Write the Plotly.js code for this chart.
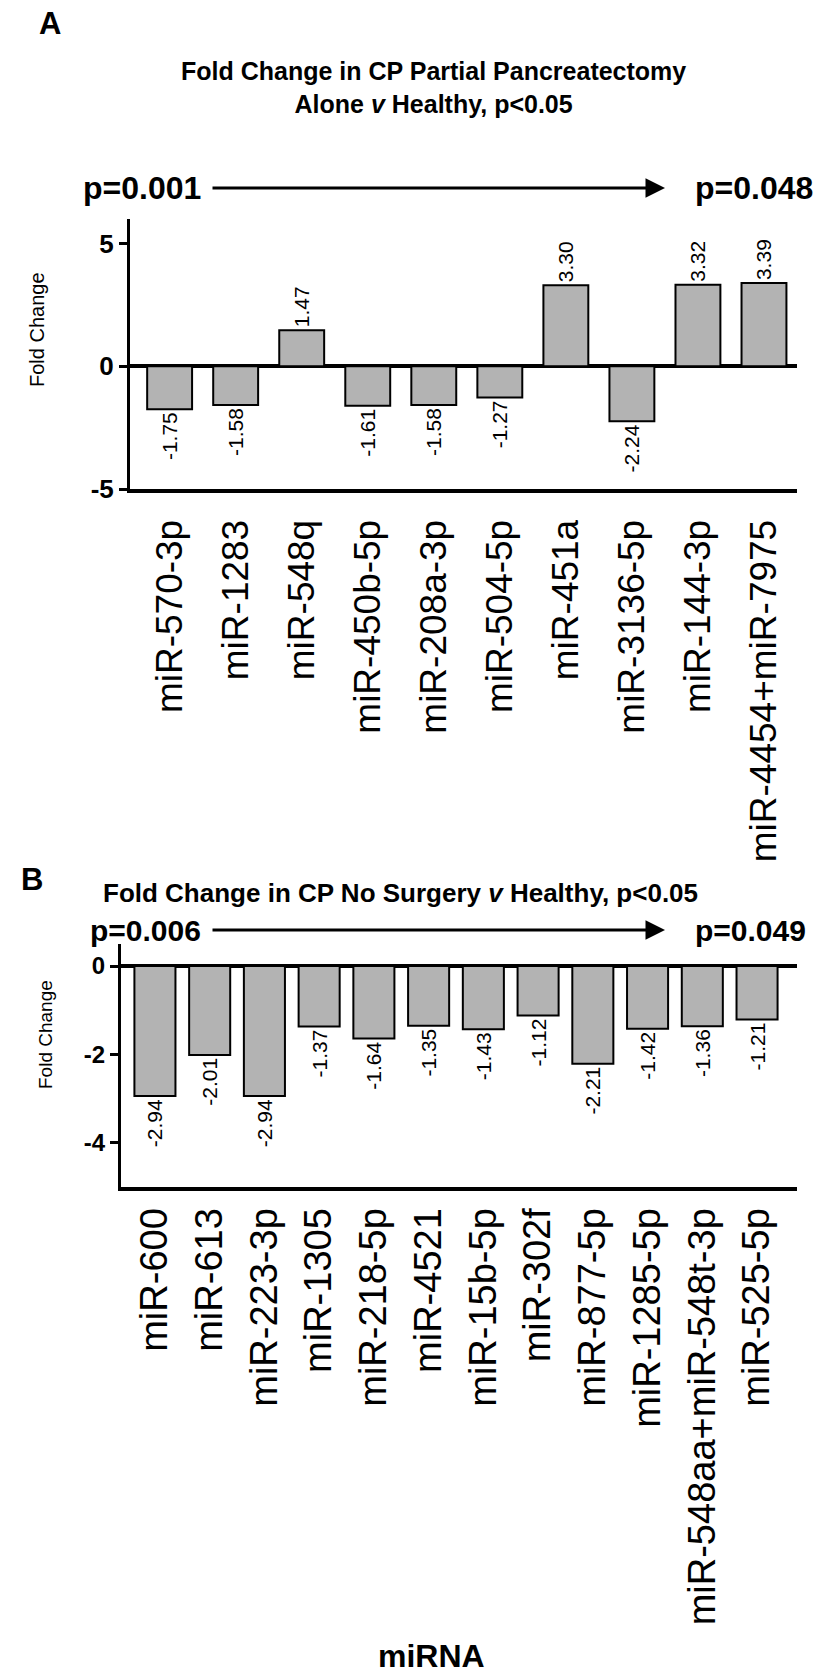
<!DOCTYPE html>
<html>
<head>
<meta charset="utf-8">
<script src="https://cdn.plot.ly/plotly-3.0.1.min.js"></script>
<style>html,body{margin:0;padding:0;background:#fff;}</style>
</head>
<body>
<div id="chart" style="width:829px;height:1678px;"></div>
<script>
// ---- data ----
const catsA = ['miR-570-3p','miR-1283','miR-548q','miR-450b-5p','miR-208a-3p','miR-504-5p','miR-451a','miR-3136-5p','miR-144-3p','miR-4454+miR-7975'];
const valsA = [-1.75,-1.58,1.47,-1.61,-1.58,-1.27,3.30,-2.24,3.32,3.39];
const catsB = ['miR-600','miR-613','miR-223-3p','miR-1305','miR-218-5p','miR-4521','miR-15b-5p','miR-302f','miR-877-5p','miR-1285-5p','miR-548aa+miR-548t-3p','miR-525-5p'];
const valsB = [-2.94,-2.01,-2.94,-1.37,-1.64,-1.35,-1.43,-1.12,-2.21,-1.42,-1.36,-1.21];
const yTicksA = [-5,0,5];
const yTicksB = [-4,-2,0];

// ---- layout helpers ----
const W = 829, H = 1678;
const px = x => x / W;
const py = y => 1 - y / H;
const FONT = 'Liberation Sans, Arial, Helvetica, sans-serif';
const BAR = '#b3b3b3';

const traceA = {
  type:'bar', x:catsA, y:valsA, xaxis:'x', yaxis:'y', width:0.68,
  marker:{color:BAR, line:{color:'black', width:2}},
  text: valsA.map(v => v.toFixed(2)), textposition:'outside', textangle:-90,
  textfont:{family:FONT, size:21, color:'black'}, cliponaxis:false, constraintext:'none'
};
const traceB = {
  type:'bar', x:catsB, y:valsB, xaxis:'x2', yaxis:'y2', width:0.75,
  marker:{color:BAR, line:{color:'black', width:2}},
  text: valsB.map(v => v.toFixed(2)), textposition:'outside', textangle:-90,
  textfont:{family:FONT, size:21, color:'black'}, cliponaxis:false, constraintext:'none'
};

const xCommon = {showline:true, linecolor:'black', linewidth:4, ticks:'', tickangle:-90,
  showgrid:false, zeroline:false, fixedrange:true};
const yCommon = {showline:true, linecolor:'black', linewidth:3, ticks:'outside', ticklen:8,
  tickwidth:3, tickcolor:'black', showgrid:false, zeroline:true, zerolinecolor:'black',
  zerolinewidth:4, fixedrange:true};

function ann(text, x, y, size, extra) {
  return Object.assign({text:text, xref:'paper', yref:'paper', x:px(x), y:py(y),
    xanchor:'center', yanchor:'middle', showarrow:false, font:{size:size, color:'black'}}, extra || {});
}
function arrow(x0, x1, y) {
  return {text:'', xref:'paper', yref:'paper', x:px(x1), y:py(y), ax:-(x1 - x0), ay:0,
    showarrow:true, arrowhead:2, arrowwidth:3, arrowsize:1.3, arrowcolor:'black', standoff:0, startstandoff:0};
}

const layout = {
  width:W, height:H, margin:{l:0, r:0, t:0, b:0},
  paper_bgcolor:'white', plot_bgcolor:'white', showlegend:false,
  font:{family:FONT, color:'black'},
  xaxis: Object.assign({}, xCommon, {domain:[px(130), px(797)], range:[-0.6, 9.5], anchor:'y',
    ticklabelstandoff:12, tickfont:{family:FONT, size:37, color:'black'}}),
  yaxis: Object.assign({}, yCommon, {domain:[py(489), py(219)], range:[-5, 6], anchor:'x',
    tickvals:yTicksA, ticktext:yTicksA.map(String), tickfont:{family:FONT, size:26, weight:'bold', color:'black'}}),
  xaxis2: Object.assign({}, xCommon, {domain:[px(121), px(797)], range:[-0.62, 11.73], anchor:'y2',
    ticklabelstandoff:2, tickfont:{family:FONT, size:38, color:'black'}}),
  yaxis2: Object.assign({}, yCommon, {domain:[py(1187), py(944)], range:[-5, 0.5], anchor:'x2',
    tickvals:yTicksB, ticktext:yTicksB.map(String), tickfont:{family:FONT, size:24, weight:'bold', color:'black'}}),
  annotations: [
    ann('<b>A</b>', 50, 24, 31),
    ann('<b>Fold Change in CP Partial Pancreatectomy<br>Alone <i>v</i> Healthy, p&lt;0.05</b>', 433, 87, 25, {align:'center'}),
    ann('<b>p=0.001</b>', 203, 188, 32, {xanchor:'right'}),
    arrow(211, 665, 188),
    ann('<b>p=0.048</b>', 693, 188, 32, {xanchor:'left'}),
    ann('Fold Change', 37, 330, 20, {textangle:-90}),

    ann('<b>B</b>', 32, 879, 31),
    ann('<b>Fold Change in CP No Surgery <i>v</i> Healthy, p&lt;0.05</b>', 400, 893, 26),
    ann('<b>p=0.006</b>', 203, 930, 30, {xanchor:'right'}),
    arrow(211, 665, 930),
    ann('<b>p=0.049</b>', 693, 930, 30, {xanchor:'left'}),
    ann('Fold Change', 45, 1035, 19, {textangle:-90}),
    ann('<b>miRNA</b>', 431, 1656, 32)
  ]
};

Plotly.newPlot('chart', [traceA, traceB], layout, {staticPlot:true, displayModeBar:false});
</script>
</body>
</html>
